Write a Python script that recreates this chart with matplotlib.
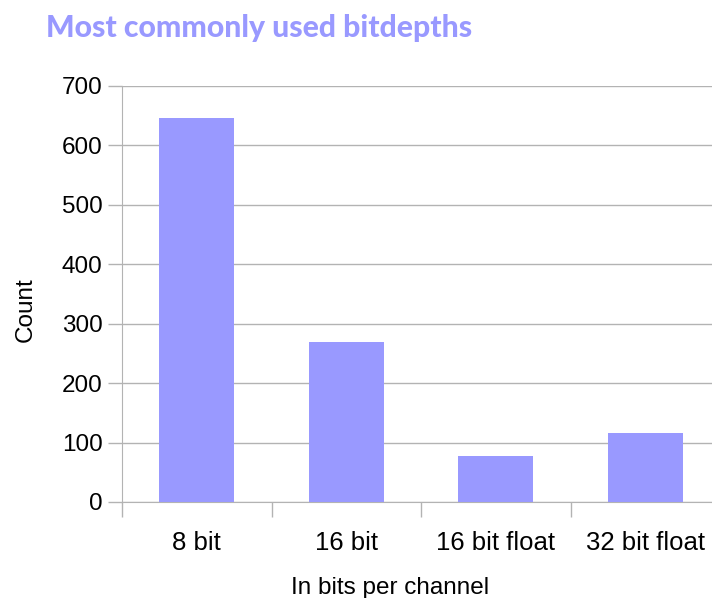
import matplotlib.pyplot as plt

categories = ['8 bit', '16 bit', '16 bit float', '32 bit float']
counts = [646, 269, 78, 116]
yticks = [0, 100, 200, 300, 400, 500, 600, 700]

bar_color = '#9999ff'
grid_color = '#b3b3b3'

plt.rcParams['font.family'] = ['Liberation Sans', 'DejaVu Sans']

fig = plt.figure(figsize=(7.12, 5.98), dpi=100)
# axes run past the right edge of the picture, like the original
ax = fig.add_axes([122 / 712, 96 / 598, 598 / 712, 416 / 598])

x = list(range(len(categories)))
ax.bar(x, counts, width=0.5, color=bar_color, zorder=3)

ax.set_xlim(-0.5, len(categories) - 0.5)
ax.set_ylim(0, 700)
ax.set_yticks(yticks)
ax.yaxis.grid(True, color=grid_color, linewidth=1, zorder=0)

ax.set_xticks([i - 0.5 for i in range(len(categories) + 1)])
ax.set_xticklabels([])
ax.set_xticks(x, minor=True)
ax.set_xticklabels(categories, minor=True, fontsize=18.5)
ax.tick_params(axis='x', which='minor', length=0, pad=21)
ax.tick_params(axis='x', which='major', length=11, width=1, color=grid_color)
ax.tick_params(axis='y', length=10, width=1, color=grid_color, labelsize=17.5, pad=4)

for s in ['top', 'right']:
    ax.spines[s].set_visible(False)
ax.spines['left'].set_color(grid_color)
ax.spines['bottom'].set_color(grid_color)

ax.set_xlabel('In bits per channel', fontsize=17.5, labelpad=16)
ax.set_ylabel('Count', fontsize=17.5, labelpad=18)
# labels sit off-centre in the original
ax.xaxis.label.set_x(0.5 - 31 / 598)
ax.yaxis.label.set_y(0.5 - 16 / 416)

fig.text(46 / 712, 1 - 37 / 598, 'Most commonly used bitdepths', color=bar_color,
         fontsize=21.7, fontweight='black',
         family=['Lato', 'DejaVu Sans'], ha='left', va='baseline')

fig.savefig('out.png', dpi=100)
